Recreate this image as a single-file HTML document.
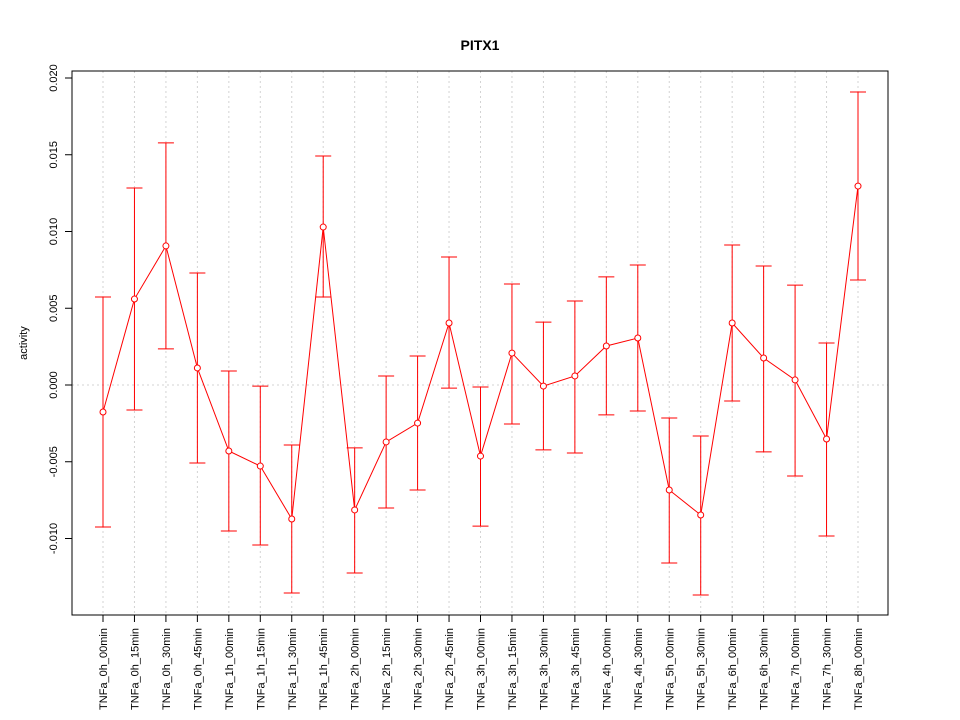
<!DOCTYPE html>
<html><head><meta charset="utf-8"><style>
html,body{margin:0;padding:0;background:#fff;}
svg{display:block;font-family:"Liberation Sans",sans-serif;}
</style></head><body>
<svg id="chart" width="960" height="720" viewBox="0 0 960 720" xmlns="http://www.w3.org/2000/svg">
<rect width="960" height="720" fill="#fff"/>
<text x="480" y="50" text-anchor="middle" font-size="14" font-weight="bold">PITX1</text>
<text x="0" y="0" transform="translate(27,343) rotate(-90)" text-anchor="middle" font-size="11">activity</text>
<g id="grid"></g><g id="axes"></g><g id="marks"></g>
<rect x="72" y="71" width="816" height="544" fill="none" stroke="#000"/>
</svg>
<script>
const categories = ["TNFa_0h_00min","TNFa_0h_15min","TNFa_0h_30min","TNFa_0h_45min","TNFa_1h_00min","TNFa_1h_15min","TNFa_1h_30min","TNFa_1h_45min","TNFa_2h_00min","TNFa_2h_15min","TNFa_2h_30min","TNFa_2h_45min","TNFa_3h_00min","TNFa_3h_15min","TNFa_3h_30min","TNFa_3h_45min","TNFa_4h_00min","TNFa_4h_30min","TNFa_5h_00min","TNFa_5h_30min","TNFa_6h_00min","TNFa_6h_30min","TNFa_7h_00min","TNFa_7h_30min","TNFa_8h_00min"];
const values = [-0.00176,0.0056,0.00906,0.00111,-0.0043,-0.00528,-0.00873,0.01029,-0.00814,-0.00371,-0.00248,0.00404,-0.00463,0.00208,-0.00007,0.00059,0.00254,0.00306,-0.00684,-0.00847,0.00404,0.00176,0.00033,-0.00352,0.01296];
const upper = [0.00573,0.01283,0.01577,0.0073,0.00091,-0.00007,-0.00391,0.01492,-0.0041,0.00059,0.00189,0.00834,-0.00013,0.00658,0.0041,0.00547,0.00704,0.00782,-0.00215,-0.00332,0.00912,0.00775,0.00651,0.00274,0.01909];
const lower = [-0.00925,-0.00163,0.00235,-0.00508,-0.00951,-0.01042,-0.01355,0.00573,-0.01225,-0.00801,-0.00684,-0.0002,-0.00919,-0.00254,-0.00423,-0.00443,-0.00195,-0.00169,-0.0116,-0.01368,-0.00104,-0.00436,-0.00593,-0.00984,0.00684];
const yTicks = [-0.010,-0.005,0.000,0.005,0.010,0.015,0.020];
const yTickLabels = ["-0.010","-0.005","0.000","0.005","0.010","0.015","0.020"];

const NS="http://www.w3.org/2000/svg";
function xScale(i){return 103 + i*(858-103)/(categories.length-1);}
function yScale(v){return 385 - v*15350;}
function mk(tag,attrs,parent){const e=document.createElementNS(NS,tag);for(const k in attrs)e.setAttribute(k,attrs[k]);parent.appendChild(e);return e;}
const grid=document.getElementById('grid'),axes=document.getElementById('axes'),marks=document.getElementById('marks');

categories.forEach((c,i)=>{
  const x=xScale(i);
  const g=mk('line',{x1:x,x2:x,y1:71,y2:615,stroke:'#d3d3d3','stroke-dasharray':'2,3'},grid);
  
  
  const t=mk('line',{x1:x,x2:x,y1:615,y2:622,stroke:'#000'},axes);
  
  
  const l=mk('text',{x:0,y:0,transform:`translate(${x+4},628) rotate(-90)`,'text-anchor':'end','font-size':'11'},axes);
  l.textContent=c;
  
  
});
const hz=mk('line',{x1:72,x2:888,y1:yScale(0),y2:yScale(0),stroke:'#d3d3d3','stroke-dasharray':'2,3'},grid);


const ya=mk('line',{x1:72,x2:72,y1:yScale(yTicks[0]),y2:yScale(yTicks[yTicks.length-1]),stroke:'#000'},axes);


yTicks.forEach((v,i)=>{
  const y=yScale(v);
  const t=mk('line',{x1:65,x2:72,y1:y,y2:y,stroke:'#000'},axes);
  
  
  const l=mk('text',{x:0,y:0,transform:`translate(57,${y}) rotate(-90)`,'text-anchor':'middle','font-size':'11'},axes);
  l.textContent=yTickLabels[i];
  
  
});
categories.forEach((c,i)=>{
  const x=xScale(i),yu=yScale(upper[i]),yl=yScale(lower[i]);
  const e=mk('path',{d:`M${x},${yu}V${yl}M${x-8},${yu}H${x+8}M${x-8},${yl}H${x+8}`,stroke:'#ff0000',fill:'none'},marks);
  
  
});
const pts=values.map((v,i)=>xScale(i)+','+yScale(v)).join(' ');
const pl=mk('polyline',{points:pts,fill:'none',stroke:'#ff0000'},marks);


values.forEach((v,i)=>{
  const c=mk('circle',{cx:xScale(i),cy:yScale(v),r:3,fill:'#fff',stroke:'#ff0000'},marks);
  
  
});
</script>
</body></html>
